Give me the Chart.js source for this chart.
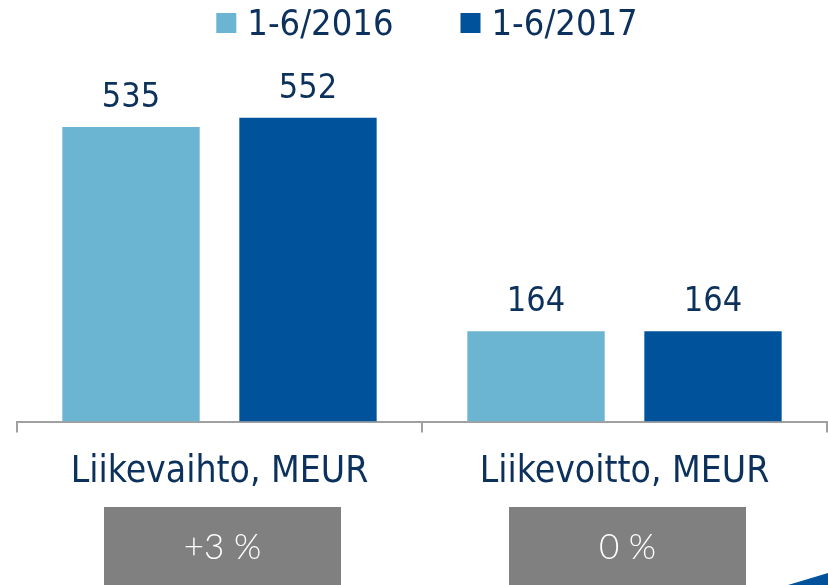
<!DOCTYPE html>
<html>
<head>
<meta charset="utf-8">
<script src="https://cdn.jsdelivr.net/npm/chart.js@4"></script>
<style>
  html, body { margin: 0; padding: 0; background: #fff; }
  #wrap { width: 828px; height: 585px; }
</style>
</head>
<body>
<div id="wrap"><canvas id="bar_chart" width="828" height="585"></canvas></div>
<script>
// data
var categories = ['Liikevaihto, MEUR', 'Liikevoitto, MEUR'];
var seriesNames = ['1-6/2016', '1-6/2017'];
var values2016 = [535, 164];
var values2017 = [552, 164];
var changeLabels = ['+3 %', '0 %'];

var navy = '#0c315c';
var mainFont = '"DejaVu Sans Condensed", "DejaVu Sans", sans-serif';

// legend on top, value labels above bars, change boxes under the axis, corner wedge
var extrasPlugin = {
    id: 'extras',
    afterDatasetsDraw: function (chart) {
        var ctx = chart.ctx;
        ctx.save();
        ctx.fillStyle = navy;
        ctx.font = '34px ' + mainFont;
        ctx.textAlign = 'center';
        ctx.textBaseline = 'alphabetic';
        chart.data.datasets.forEach(function (ds, i) {
            chart.getDatasetMeta(i).data.forEach(function (bar, j) {
                ctx.fillText(String(ds.data[j]), bar.x, bar.y - 20);
            });
        });
        ctx.restore();
    },
    afterDraw: function (chart) {
        var ctx = chart.ctx;
        var xs = chart.scales.x;
        ctx.save();

        // legend
        ctx.font = '36px ' + mainFont;
        ctx.textBaseline = 'alphabetic';
        ctx.textAlign = 'left';
        var items = chart.data.datasets.map(function (ds) {
            return { text: ds.label, color: ds.backgroundColor, w: ctx.measureText(ds.label).width };
        });
        var total = 0;
        items.forEach(function (it, i) { total += 20 + 11 + it.w + (i ? 67 : 0); });
        var x = 427 - total / 2;
        items.forEach(function (it, i) {
            if (i) x += 67;
            ctx.fillStyle = it.color;
            ctx.fillRect(x, 13, 20, 20);
            ctx.fillStyle = navy;
            ctx.fillText(it.text, x + 31, 35);
            x += 31 + it.w;
        });

        changeLabels.forEach(function (txt, i) {
            var cx = xs.getPixelForValue(i) + 3;
            ctx.fillStyle = '#808080';
            ctx.fillRect(cx - 118.5, 507, 237, 80);
            ctx.fillStyle = '#ffffff';
            ctx.font = '300 35px Lato, sans-serif';
            ctx.textAlign = 'center';
            ctx.textBaseline = 'middle';
            ctx.fillText(txt, cx, 548);
        });
        ctx.fillStyle = '#00539b';
        ctx.beginPath();
        ctx.moveTo(788, 585);
        ctx.lineTo(828, 573);
        ctx.lineTo(828, 585);
        ctx.closePath();
        ctx.fill();
        ctx.restore();
    }
};

var barChart = document.getElementById('bar_chart').getContext('2d');
var chart = new Chart(barChart, {
    type: 'bar',
    data: {
        labels: categories,
        datasets: [{
            label: seriesNames[0],
            data: values2016,
            backgroundColor: '#6bb4d2',
            categoryPercentage: 0.874,
            barPercentage: 0.776
        }, {
            label: seriesNames[1],
            data: values2017,
            backgroundColor: '#00539b',
            categoryPercentage: 0.874,
            barPercentage: 0.776
        }]
    },
    options: {
        responsive: false,
        animation: false,
        layout: { padding: { left: 17, right: 1, top: 56, bottom: 72 } },
        plugins: {
            legend: { display: false },
            tooltip: { enabled: false }
        },
        scales: {
            x: {
                grid: {
                    display: true,
                    offset: true,
                    drawOnChartArea: false,
                    drawTicks: true,
                    tickLength: 11,
                    color: '#a0a0a0',
                    lineWidth: 2
                },
                border: { display: true, color: '#a0a0a0', width: 2 },
                ticks: {
                    color: navy,
                    padding: 18,
                    font: { size: 37, family: mainFont }
                }
            },
            y: {
                display: false,
                min: 0,
                max: 664
            }
        }
    },
    plugins: [extrasPlugin]
});
</script>
</body>
</html>
